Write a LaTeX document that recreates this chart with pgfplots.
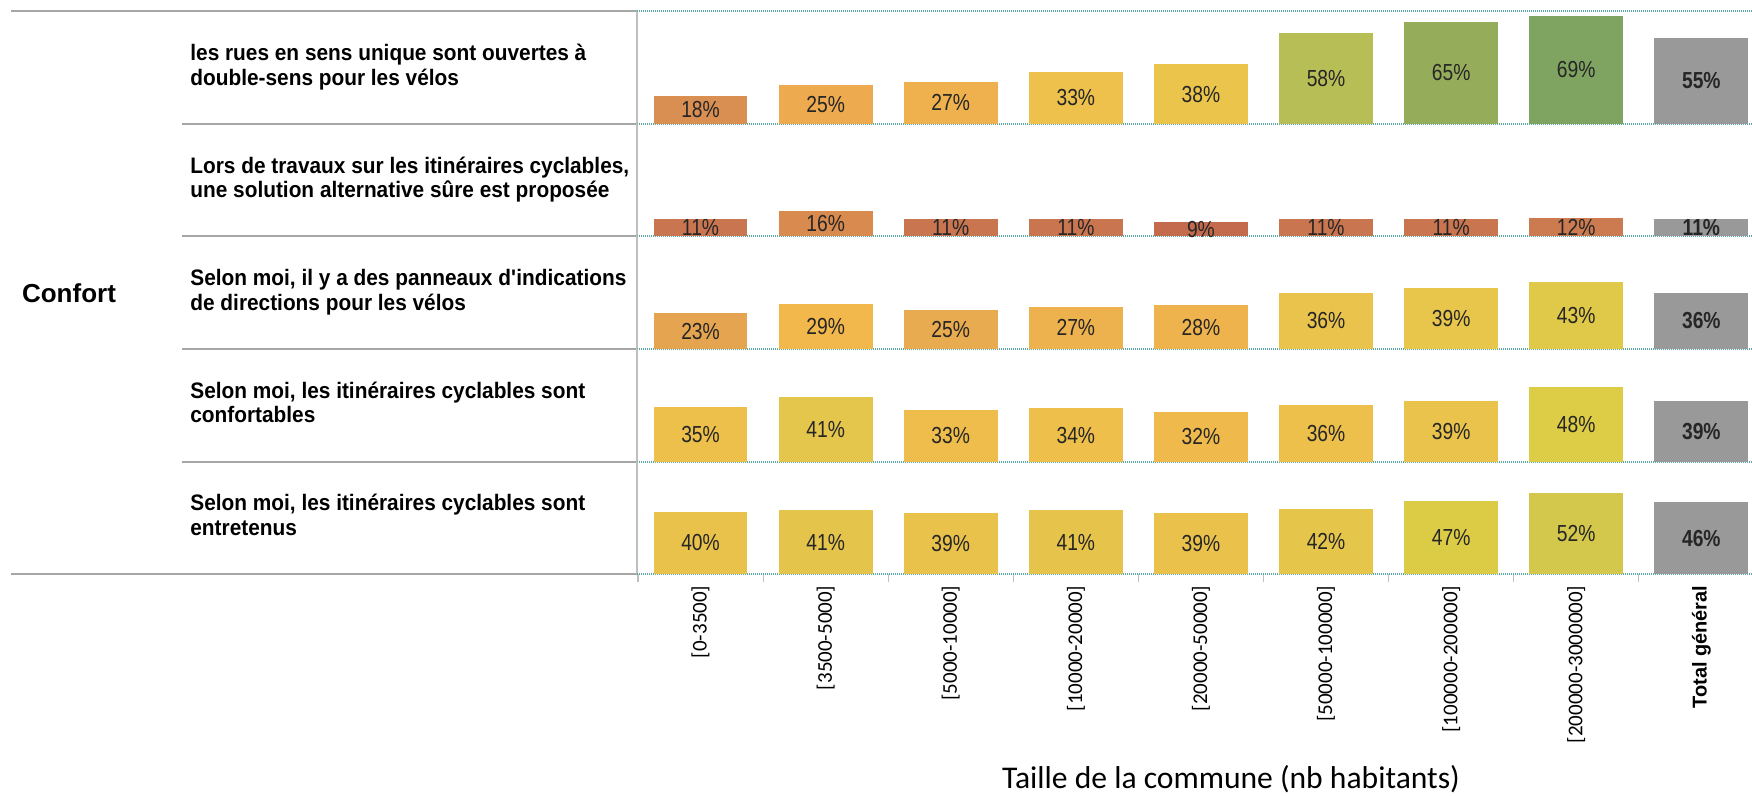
\documentclass[border=0pt]{standalone}
\usepackage{pgfplots}
\pgfplotsset{compat=1.18}
\usepackage{fontspec}
\setmainfont{Liberation Sans}
\newfontfamily\calibri{Carlito}
\newfontfamily\labfont[FakeStretch=0.93]{Liberation Sans}
\newfontfamily\valfont[FakeStretch=0.83]{Liberation Sans}
\definecolor{gridteal}{HTML}{5AAAAA}
\definecolor{sepgray}{HTML}{A6A6A6}
\definecolor{spinegray}{HTML}{BFBFBF}
\definecolor{totgray}{HTML}{999999}
% row 1
\definecolor{ra0}{HTML}{D98F52}\definecolor{ra1}{HTML}{EDAA4E}\definecolor{ra2}{HTML}{EFB04E}\definecolor{ra3}{HTML}{EEC04C}
\definecolor{ra4}{HTML}{EBC54B}\definecolor{ra5}{HTML}{B7BE55}\definecolor{ra6}{HTML}{95AD5B}\definecolor{ra7}{HTML}{7FA462}
% row 2
\definecolor{rb0}{HTML}{C97550}\definecolor{rb1}{HTML}{D88A4F}\definecolor{rb2}{HTML}{C97550}\definecolor{rb3}{HTML}{C97550}
\definecolor{rb4}{HTML}{C46A4D}\definecolor{rb5}{HTML}{C97550}\definecolor{rb6}{HTML}{C97550}\definecolor{rb7}{HTML}{CC7A50}
% row 3
\definecolor{rc0}{HTML}{E5A44F}\definecolor{rc1}{HTML}{F2B84C}\definecolor{rc2}{HTML}{E9AB4F}\definecolor{rc3}{HTML}{EDB14E}
\definecolor{rc4}{HTML}{EFB34D}\definecolor{rc5}{HTML}{EAC34C}\definecolor{rc6}{HTML}{E8C64B}\definecolor{rc7}{HTML}{E0C949}
% row 4
\definecolor{rd0}{HTML}{EDBF4B}\definecolor{rd1}{HTML}{E3C64B}\definecolor{rd2}{HTML}{EEBD4B}\definecolor{rd3}{HTML}{EEBF4B}
\definecolor{rd4}{HTML}{EFBA4B}\definecolor{rd5}{HTML}{EDBF4B}\definecolor{rd6}{HTML}{E9C34B}\definecolor{rd7}{HTML}{DDCC46}
% row 5
\definecolor{re0}{HTML}{E8C24B}\definecolor{re1}{HTML}{E5C44B}\definecolor{re2}{HTML}{E9C24B}\definecolor{re3}{HTML}{E6C44B}
\definecolor{re4}{HTML}{EAC24B}\definecolor{re5}{HTML}{E5C64B}\definecolor{re6}{HTML}{DCCC45}\definecolor{re7}{HTML}{D3C84C}

\pgfplotsset{
  rowaxis/.style={
    scale only axis, width=557.5pt, height=56.3pt,
    xmin=-0.508, xmax=8.405, ymin=0, ymax=72,
    axis line style={draw=none},
    xtick=\empty, ytick=\empty,
    clip=false,
    nodes near coords={\pgfmathprintnumber{\pgfplotspointmeta}\%},
    /pgf/number format/assume math mode=true,
    visualization depends on={y \as \ry},
    every node near coord/.append style={anchor=center, yshift=-0.391pt*\ry,
      font=\valfont\fontsize{11.6}{13}\selectfont, text=black!85, inner sep=0pt},
  },
  bb/.style={ybar, bar width=46.9pt, bar shift=0pt, fill=#1, draw=none},
  tot/.style={bb=totgray, every node near coord/.append style={font=\valfont\bfseries\fontsize{11.6}{13}\selectfont}},
}
\newcommand{\spines}{%
  \draw[spinegray, line width=0.6pt] (rel axis cs:0,0) -- (rel axis cs:0,1);
  \draw[gridteal, line width=1pt, dash pattern=on 0.5pt off 0.5pt] (rel axis cs:0,0) -- (rel axis cs:1,0);
}

\begin{document}
\begin{tikzpicture}
\path[use as bounding box] (0,0) rectangle (876pt,-398pt);

% left-side table lines
\draw[sepgray, line width=1pt] (5.5pt,-5.6pt) -- (318.5pt,-5.6pt);
\draw[sepgray, line width=1pt] (5.5pt,-287.1pt) -- (318.5pt,-287.1pt);
\foreach \yy in {61.9,118.2,174.5,230.8}
  \draw[sepgray, line width=1pt] (91pt,-\yy pt) -- (318.5pt,-\yy pt);

% Row 1
\begin{axis}[rowaxis, at={(318.5pt,-5.6pt)}, anchor=north west]
\spines
\draw[gridteal, line width=1pt, dash pattern=on 0.5pt off 0.5pt] (rel axis cs:0,1) -- (rel axis cs:1,1);
\addplot[bb=ra0] coordinates {(0,18)};
\addplot[bb=ra1] coordinates {(1,25)};
\addplot[bb=ra2] coordinates {(2,27)};
\addplot[bb=ra3] coordinates {(3,33)};
\addplot[bb=ra4] coordinates {(4,38)};
\addplot[bb=ra5] coordinates {(5,58)};
\addplot[bb=ra6] coordinates {(6,65)};
\addplot[bb=ra7] coordinates {(7,69)};
\addplot[tot] coordinates {(8,55)};
\end{axis}

% Row 2
\begin{axis}[rowaxis, at={(318.5pt,-61.9pt)}, anchor=north west]
\spines
\addplot[bb=rb0] coordinates {(0,11)};
\addplot[bb=rb1] coordinates {(1,16)};
\addplot[bb=rb2] coordinates {(2,11)};
\addplot[bb=rb3] coordinates {(3,11)};
\addplot[bb=rb4] coordinates {(4,9)};
\addplot[bb=rb5] coordinates {(5,11)};
\addplot[bb=rb6] coordinates {(6,11)};
\addplot[bb=rb7] coordinates {(7,12)};
\addplot[tot] coordinates {(8,11)};
\end{axis}

% Row 3
\begin{axis}[rowaxis, at={(318.5pt,-118.2pt)}, anchor=north west]
\spines
\addplot[bb=rc0] coordinates {(0,23)};
\addplot[bb=rc1] coordinates {(1,29)};
\addplot[bb=rc2] coordinates {(2,25)};
\addplot[bb=rc3] coordinates {(3,27)};
\addplot[bb=rc4] coordinates {(4,28)};
\addplot[bb=rc5] coordinates {(5,36)};
\addplot[bb=rc6] coordinates {(6,39)};
\addplot[bb=rc7] coordinates {(7,43)};
\addplot[tot] coordinates {(8,36)};
\end{axis}

% Row 4
\begin{axis}[rowaxis, at={(318.5pt,-174.5pt)}, anchor=north west]
\spines
\addplot[bb=rd0] coordinates {(0,35)};
\addplot[bb=rd1] coordinates {(1,41)};
\addplot[bb=rd2] coordinates {(2,33)};
\addplot[bb=rd3] coordinates {(3,34)};
\addplot[bb=rd4] coordinates {(4,32)};
\addplot[bb=rd5] coordinates {(5,36)};
\addplot[bb=rd6] coordinates {(6,39)};
\addplot[bb=rd7] coordinates {(7,48)};
\addplot[tot] coordinates {(8,39)};
\end{axis}

% Row 5
\begin{axis}[rowaxis, at={(318.5pt,-230.8pt)}, anchor=north west,
  xtick={0,...,8},
  xticklabels={{[0-3500]},{[3500-5000]},{[5000-10000]},{[10000-20000]},{[20000-50000]},{[50000-100000]},{[100000-200000]},{[200000-3000000]},{\normalfont\bfseries\fontsize{10}{12}\selectfont Total général}},
  major tick length=0pt,
  minor xtick={-0.5,0.5,...,7.5},
  minor tick length=4pt,
  tick align=outside, xtick pos=bottom,
  minor tick style={spinegray, line width=0.6pt},
  xticklabel shift=5.5pt,
  xticklabel style={rotate=90, anchor=east, inner sep=0pt, font=\calibri\fontsize{10.5}{12}\selectfont},
]
\spines
\addplot[bb=re0] coordinates {(0,40)};
\addplot[bb=re1] coordinates {(1,41)};
\addplot[bb=re2] coordinates {(2,39)};
\addplot[bb=re3] coordinates {(3,41)};
\addplot[bb=re4] coordinates {(4,39)};
\addplot[bb=re5] coordinates {(5,42)};
\addplot[bb=re6] coordinates {(6,47)};
\addplot[bb=re7] coordinates {(7,52)};
\addplot[tot] coordinates {(8,46)};
\end{axis}

% row labels
\begin{scope}[every node/.style={anchor=base west, inner sep=0pt, font=\labfont\bfseries\fontsize{11.2}{12.3}\selectfont}]
\node at (95pt,-30.3pt) {les rues en sens unique sont ouvertes à};
\node at (95pt,-42.6pt) {double-sens pour les vélos};
\node at (95pt,-86.6pt) {Lors de travaux sur les itinéraires cyclables,};
\node at (95pt,-98.9pt) {une solution alternative sûre est proposée};
\node at (95pt,-142.9pt) {Selon moi, il y a des panneaux d\textquotesingle indications};
\node at (95pt,-155.2pt) {de directions pour les vélos};
\node at (95pt,-199.2pt) {Selon moi, les itinéraires cyclables sont};
\node at (95pt,-211.5pt) {confortables};
\node at (95pt,-255.5pt) {Selon moi, les itinéraires cyclables sont};
\node at (95pt,-267.8pt) {entretenus};
\end{scope}
\node[font=\bfseries\fontsize{13}{15}\selectfont, inner sep=0pt] at (34.5pt,-146.5pt) {Confort};
\node[anchor=base, inner sep=0pt, font=\calibri\fontsize{15.8}{18}\selectfont] at (615.5pt,-394pt) {Taille de la commune (nb habitants)};
\end{tikzpicture}
\end{document}
